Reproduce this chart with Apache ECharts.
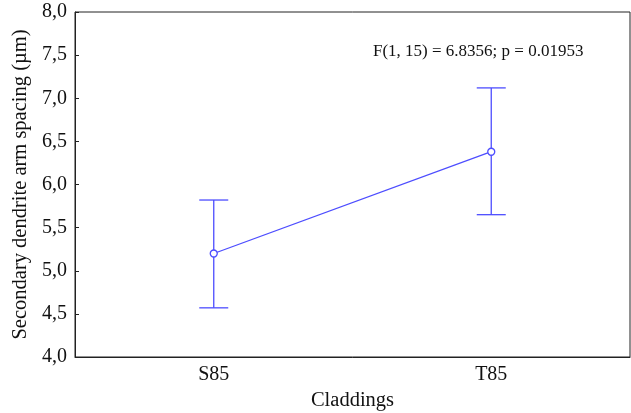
<!DOCTYPE html>
<html><head><meta charset="utf-8">
<script src="https://cdn.jsdelivr.net/npm/echarts@6/dist/echarts.min.js"></script>
<style>html,body{margin:0;padding:0;background:#fff}#c{width:631px;height:413px}</style>
</head><body><div id="c"></div>
<script>
const categories = ['S85', 'T85'];
const means = [5.20, 6.38];
const lower = [4.57, 5.65];
const upper = [5.82, 7.12];
const yTicks = { min: 4.0, max: 8.0, interval: 0.5 };
const annotation = 'F(1, 15) = 6.8356; p = 0.01953';

const FONT = '"Liberation Serif", "Times New Roman", serif';
const BLUE = '#4d4dff';
const chart = echarts.init(document.getElementById('c'), null, { renderer: 'canvas' });
chart.setOption({
  animation: false,
  backgroundColor: '#fff',
  grid: { left: 75, right: 1, top: 12, bottom: 56, show: true, borderColor: '#222', borderWidth: 1,
          containLabel: false, outerBoundsMode: 'none' },
  xAxis: {
    type: 'category', data: categories, boundaryGap: true,
    name: 'Claddings', nameLocation: 'middle', nameGap: 27,
    nameTextStyle: { fontFamily: FONT, fontSize: 20.5, color: '#111' },
    axisLine: { lineStyle: { color: '#222' } },
    axisTick: { inside: true, alignWithLabel: true, length: 4, lineStyle: { color: '#222' } },
    axisLabel: { fontFamily: FONT, fontSize: 20, color: '#111', margin: 8 },
    splitLine: { show: false }
  },
  yAxis: {
    type: 'value', min: yTicks.min, max: yTicks.max, interval: yTicks.interval,
    name: 'Secondary dendrite arm spacing (\u00b5m)', nameLocation: 'middle', nameGap: 40,
    nameTextStyle: { fontFamily: FONT, fontSize: 20.5, color: '#111' },
    axisLine: { show: true, lineStyle: { color: '#222' } },
    axisTick: { show: true, inside: true, length: 4, lineStyle: { color: '#222' } },
    axisLabel: { fontFamily: FONT, fontSize: 20, color: '#111', margin: 8,
      formatter: v => v.toFixed(1).replace('.', ',') },
    splitLine: { show: false }
  },
  series: [
    {
      type: 'custom',
      data: categories.map((c, i) => [i, lower[i], upper[i]]),
      renderItem: (params, api) => {
        const lo = api.coord([api.value(0), api.value(1)]);
        const hi = api.coord([api.value(0), api.value(2)]);
        const hw = 14.5;
        const style = { stroke: BLUE, lineWidth: 1.3 };
        return {
          type: 'group',
          children: [
            { type: 'line', shape: { x1: lo[0], y1: lo[1], x2: hi[0], y2: hi[1] }, style },
            { type: 'line', shape: { x1: lo[0] - hw, y1: lo[1], x2: lo[0] + hw, y2: lo[1] }, style },
            { type: 'line', shape: { x1: hi[0] - hw, y1: hi[1], x2: hi[0] + hw, y2: hi[1] }, style }
          ]
        };
      },
      z: 2
    },
    {
      type: 'line', data: means,
      symbol: 'circle', symbolSize: 7, showSymbol: true,
      lineStyle: { color: BLUE, width: 1.3 },
      itemStyle: { color: '#fff', borderColor: BLUE, borderWidth: 1.3 },
      z: 3
    }
  ],
  graphic: [
    { type: 'text', left: 373, top: 43, style: { text: annotation, font: '17px ' + FONT, fill: '#111' } }
  ]
});
</script>
</body></html>
